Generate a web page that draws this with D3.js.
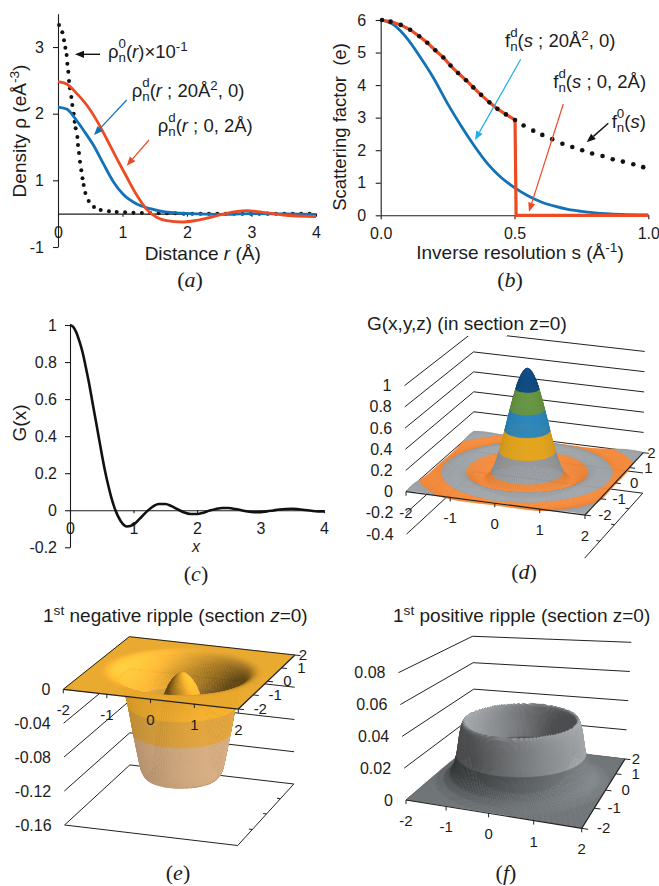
<!DOCTYPE html>
<html>
<head>
<meta charset="utf-8">
<title>Density, scattering factor and ripple surfaces</title>
<style>
  html, body { margin: 0; background: #fff; }
  svg { display: block; }
  text { font-family: "Liberation Sans", Arial, sans-serif; fill: #1c1c1c; }
  .cap { font-family: "Liberation Serif", "Times New Roman", serif; }
  .axis path, .axis line { stroke: #1c1c1c; stroke-width: 1.1; }
  .axis text { font-size: 16px; }
</style>
<script src="https://d3js.org/d3.v7.min.js"></script>
</head>
<body>
<script>
// panel (a), the y axis of the original is labelled 3,2,1,-1 with the baseline at 0.5 of its units
const aDotsR = [0.016,0.067,0.093,0.114,0.134,0.145,0.16,0.171,0.186,0.206,0.222,0.243,0.258,0.274,0.3,0.31,0.326,0.341,0.361,0.38,0.398,0.424,0.476,0.558,0.662,0.79,0.91,1.04,1.17,1.3,1.43,1.56,1.69,1.82,1.95,2.08,2.21,2.34,2.47,2.6,2.73,2.86,2.99,3.12,3.25,3.38,3.51,3.64,3.77,3.9];
const aDotsV = [3.33,3.22,3.1,2.99,2.88,2.75,2.63,2.49,2.38,2.25,2.13,2,1.88,1.78,1.65,1.53,1.41,1.28,1.15,1.03,0.93,0.81,0.69,0.6,0.555,0.535,0.525,0.52,0.515,0.51,0.51,0.505,0.505,0.505,0.5,0.5,0.5,0.5,0.5,0.5,0.5,0.5,0.5,0.5,0.5,0.5,0.5,0.5,0.5,0.5];
const aBlueR = [0,0.134,0.264,0.393,0.548,0.703,0.858,1.01,1.22,1.43,1.63,2.05,2.5,3,3.5,4];
const aBlueV = [2.1,2.07,1.93,1.755,1.53,1.25,0.98,0.79,0.645,0.575,0.53,0.5,0.49,0.5,0.495,0.49];
const aRedR = [0,0.134,0.29,0.445,0.6,0.755,0.91,1.065,1.22,1.375,1.53,1.685,1.92,2.15,2.41,2.61,2.92,3.23,3.49,4];
const aRedV = [2.48,2.445,2.305,2.13,1.9,1.62,1.33,1.05,0.78,0.565,0.445,0.395,0.375,0.4,0.455,0.505,0.545,0.515,0.48,0.455];
const aYTicks = [0,1,2,3];
const aYLabels = ["-1","1","2","3"];
const aXTicks = [0,1,2,3,4];

// panel (b)
const bDotS = [0.005,0.037,0.075,0.11,0.144,0.174,0.204,0.234,0.261,0.289,0.319,0.346,0.375,0.406,0.436,0.468,0.502,0.534,0.57,0.604,0.641,0.679,0.716,0.753,0.79,0.829,0.867,0.905,0.944,0.981];
const bDotF = [6,5.95,5.85,5.7,5.5,5.3,5.07,4.85,4.6,4.37,4.15,3.93,3.7,3.47,3.27,3.1,2.93,2.76,2.6,2.47,2.34,2.2,2.1,2,1.9,1.82,1.72,1.65,1.57,1.48];
const bRedS = [0,0.037,0.075,0.11,0.144,0.174,0.204,0.234,0.261,0.289,0.319,0.346,0.375,0.406,0.436,0.468,0.502,0.506,1];
const bRedF = [6,5.95,5.85,5.7,5.5,5.3,5.07,4.85,4.6,4.37,4.15,3.93,3.7,3.47,3.27,3.1,2.93,0,0];
const bBlueS = [0,0.05,0.1,0.15,0.2,0.25,0.3,0.35,0.4,0.45,0.5,0.55,0.6,0.65,0.7,0.75,0.8,0.9,1];
const bBlueF = [6,5.84,5.42,4.83,4.18,3.43,2.75,2.13,1.58,1.16,0.85,0.6,0.41,0.28,0.18,0.12,0.077,0.03,0.01];
const bYTicks = [0,1,2,3,4,5,6];
const bXTicks = [0,0.5,1];

// panel (c), and the radial profile of panel (d)
const cR = [0,0.05,0.1,0.15,0.2,0.25,0.3,0.35,0.4,0.45,0.5,0.55,0.6,0.65,0.7,0.8,0.9,1,1.1,1.2,1.3,1.4,1.5,1.6,1.7,1.8,1.9,2,2.1,2.2,2.3,2.4,2.5,2.6,2.7,2.8,2.9,3,3.1,3.2,3.3,3.4,3.5,3.6,3.7,3.8,3.9,4];
const cG = [1,0.99,0.96,0.91,0.85,0.77,0.686,0.59,0.495,0.4,0.304,0.215,0.138,0.07,0.0145,-0.059,-0.088,-0.078,-0.045,-0.01,0.019,0.034,0.034,0.022,0.004,-0.012,-0.02,-0.02,-0.013,-0.002,0.007,0.012,0.012,0.007,0,-0.007,-0.01,-0.01,-0.006,-0.001,0.004,0.007,0.008,0.005,0.001,-0.003,-0.006,-0.006];
const cYTicks = [-0.2,0,0.2,0.4,0.6,0.8,1];
const cXTicks = [0,1,2,3,4];

// panel (e) and (f), radial height profiles
const eR = [0,0.1,0.2,0.3,0.4,0.5,0.6,0.65,0.7,0.8,0.85,0.92,1.08,1.19,1.23,1.3,1.4,1.5,1.6,1.7,2.9];
const eZ = [-0.001,-0.0027,-0.0078,-0.016,-0.028,-0.058,-0.1,-0.12,-0.125,-0.126,-0.124,-0.116,-0.073,-0.04,-0.03,-0.02,-0.01,-0.004,-0.001,0,0];
const fR = [0,0.8,0.9,1,1.1,1.15,1.2,1.25,1.3,1.35,1.4,1.47,1.55,1.65,1.8,2,2.9];
const fZ = [0,0,0.001,0.004,0.01,0.017,0.03,0.037,0.039,0.036,0.03,0.018,0.01,0.005,0.002,0.0005,0];

const planTicks = [-2,-1,0,1,2];
const dZLevels = [-0.4,-0.2,0,0.2,0.4,0.6,0.8,1];
const dZLabels = ["-0.4","-0.2","0","0.2","0.4","0.6","0.8","1"];
const eZLevels = [-0.16,-0.12,-0.08,-0.04,0];
const eZLabels = ["-0.16","-0.12","-0.08","-0.04","0"];
const fZLevels = [0,0.02,0.04,0.06,0.08];
const fZLabels = ["0","0.02","0.04","0.06","0.08"];

const red = "#ee4a23", blue = "#1272b7", cyan = "#1fb0e4", ink = "#111";

const svg = d3.select("body").append("svg").attr("width", 659).attr("height", 886);

// text with raised, lowered, italic and stacked pieces, all in one text element
function rich(x, y, size, parts, opts = {}) {
  const t = svg.append("text").attr("x", x).attr("y", y).attr("font-size", size)
    .attr("text-anchor", opts.anchor || "start");
  if (opts.rotate) t.attr("transform", `rotate(-90 ${x} ${y})`);
  if (opts.cls) t.attr("class", opts.cls);
  const small = size * 0.72;
  let cur = 0;
  const span = (s, target, sz, extra) => {
    const ts = t.append("tspan").text(s).attr("dy", target - cur).attr("font-size", sz);
    if (extra && extra.italic) ts.attr("font-style", "italic");
    if (extra && extra.dx) ts.attr("dx", extra.dx);
    cur = target;
  };
  parts.forEach(p => {
    if (typeof p === "string") span(p, 0, size);
    else if (p.i) span(p.i, 0, size, {italic: true});
    else if (p.sup) span(p.sup, -size * 0.36, small);
    else if (p.stack) {
      span(p.stack[0], -size * 0.55, small);
      span(p.stack[1], size * 0.2, small, {dx: -0.556 * small});
    }
  });
  return t;
}

function arrow(x1, y1, x2, y2, color, width) {
  const a = Math.atan2(y2 - y1, x2 - x1), len = 9, half = 3.6;
  const bx = x2 - len * Math.cos(a), by = y2 - len * Math.sin(a);
  svg.append("line").attr("x1", x1).attr("y1", y1).attr("x2", bx).attr("y2", by)
    .attr("stroke", color).attr("stroke-width", width);
  svg.append("path").attr("fill", color)
    .attr("d", d3.line()([[x2, y2], [bx - half * Math.sin(a), by + half * Math.cos(a)], [bx + half * Math.sin(a), by - half * Math.cos(a)]]) + "Z");
}

function drawLine(xs, ys, x, y, color, width) {
  svg.append("path").datum(xs.map((d, i) => [d, ys[i]]))
    .attr("fill", "none").attr("stroke", color).attr("stroke-width", width)
    .attr("stroke-linejoin", "round")
    .attr("d", d3.line().x(d => x(d[0])).y(d => y(d[1])).curve(d3.curveMonotoneX));
}

function drawDots(xs, ys, x, y, r) {
  svg.append("g").selectAll("circle").data(xs.map((d, i) => [d, ys[i]])).join("circle")
    .attr("cx", d => x(d[0])).attr("cy", d => y(d[1])).attr("r", r).attr("fill", ink);
}

function axes(x, y, xAt, xTicks, xFmt, yTicks, yFmt, xPad, yPad, xTick) {
  svg.append("g").attr("class", "axis").attr("transform", `translate(0,${y(xAt)})`)
    .call(d3.axisBottom(x).tickValues(xTicks).tickFormat(xFmt).tickSize(xTick).tickSizeOuter(0).tickPadding(xPad));
  svg.append("g").attr("class", "axis").attr("transform", `translate(${x(0)},0)`)
    .call(d3.axisLeft(y).tickValues(yTicks).tickFormat(yFmt).tickSize(5).tickSizeOuter(0).tickPadding(yPad));
}

function caption(letter, x, y) {
  rich(x, y, 22, ["(", {i: letter}, ")"], {anchor: "middle", cls: "cap"});
}

// ---- panel a
const ax = d3.scaleLinear().domain([0, 4]).range([58, 316]);
const ay = d3.scaleLinear().domain([0, 3.5]).range([247, 13.7]);
drawDots(aDotsR, aDotsV, ax, ay, 2);
axes(ax, ay, 0.5, aXTicks, d3.format("d"), aYTicks, (d, i) => aYLabels[i], 9.5, 9, 3);
drawLine(aBlueR, aBlueV, ax, ay, blue, 2.8);
drawLine(aRedR, aRedV, ax, ay, red, 2.8);
arrow(100, 54.3, 75, 54.3, ink, 1.4);
arrow(126.7, 100, 94, 135, blue, 1.2);
arrow(149, 140, 126.7, 165.7, red, 1.2);
rich(108, 58, 18.5, ["ρ", {stack: ["0", "n"]}, "(", {i: "r"}, ")×10", {sup: "-1"}]);
rich(131.7, 97, 18.5, ["ρ", {stack: ["d", "n"]}, "(", {i: "r"}, " ; 20Å", {sup: "2"}, ", 0)"]);
rich(157.7, 132, 18.5, ["ρ", {stack: ["d", "n"]}, "(", {i: "r"}, " ; 0, 2Å)"]);
rich(26, 131, 19, ["Density ρ (eÅ", {sup: "-3"}, ")"], {rotate: true, anchor: "middle"});
rich(202.7, 260, 19, ["Distance ", {i: "r"}, " (Å)"], {anchor: "middle"});
caption("a", 190, 287);

// ---- panel b
const bx = d3.scaleLinear().domain([0, 1]).range([380.7, 648.3]);
const by = d3.scaleLinear().domain([0, 6]).range([215.3, 20]);
axes(bx, by, 0, bXTicks, d3.format(".1f"), bYTicks, d3.format("d"), 8.5, 9.5, 4);
drawLine(bBlueS, bBlueF, bx, by, blue, 2.8);
svg.append("path").datum(bRedS.map((d, i) => [d, bRedF[i]]))
  .attr("fill", "none").attr("stroke", red).attr("stroke-width", 3.2)
  .attr("d", d3.line().x(d => bx(d[0])).y(d => by(d[1])));
drawDots(bDotS, bDotF, bx, by, 2.3);
arrow(520.7, 59.3, 475, 140, cyan, 1.2);
arrow(563.3, 104, 529, 211.7, red, 1.2);
arrow(608.3, 123.3, 586.7, 142.3, ink, 1.4);
rich(505, 47, 18.5, ["f", {stack: ["d", "n"]}, "(", {i: "s"}, " ; 20Å", {sup: "2"}, ", 0)"]);
rich(553.3, 88, 18.5, ["f", {stack: ["d", "n"]}, "(", {i: "s"}, " ; 0, 2Å)"]);
rich(611.7, 128, 18.5, ["f", {stack: ["0", "n"]}, "(", {i: "s"}, ")"]);
rich(346, 127, 18.5, ["Scattering factor\u00a0\u00a0(e)"], {rotate: true, anchor: "middle"});
rich(520, 259, 19, ["Inverse resolution s (Å", {sup: "-1"}, ")"], {anchor: "middle"});
caption("b", 510, 287);

// ---- panel c
const cx = d3.scaleLinear().domain([0, 4]).range([70, 324]);
const cy = d3.scaleLinear().domain([-0.2, 1]).range([547.3, 325]);
axes(cx, cy, 0, cXTicks, d3.format("d"), cYTicks, d => d === 0 ? "0" : String(d), 9.5, 8, 3);
drawLine(cR, cG, cx, cy, ink, 2.6);
rich(26, 423, 19, ["G(x)"], {rotate: true, anchor: "middle"});
rich(196, 552, 16, [{i: "x"}], {anchor: "middle"});
caption("c", 196, 581);

// ---- 3D panels: a plate with four fitted corners and a height scale
function makeView(c, zScale, spread) {
  const [x0, y0] = c.fl, [x1, y1] = c.fr, [x2, y2] = c.br, [x3, y3] = c.bl;
  const dx1 = x1 - x2, dx2 = x3 - x2, sx = x0 - x1 + x2 - x3;
  const dy1 = y1 - y2, dy2 = y3 - y2, sy = y0 - y1 + y2 - y3;
  const den = dx1 * dy2 - dx2 * dy1;
  const g = (sx * dy2 - dx2 * sy) / den, h = (dx1 * sy - sx * dy1) / den;
  const a = x1 - x0 + g * x1, b = x3 - x0 + h * x3, d = y1 - y0 + g * y1, e = y3 - y0 + h * y3;
  const base = (u, v) => {
    const w = g * u + h * v + 1;
    return [(a * u + b * v + x0) / w, (d * u + e * v + y0) / w, 1 / w];
  };
  const mid = base(0.5, 0.5)[0];
  return (x, y, z = 0) => {
    const [px, py, k] = base((x + 2) / 4, (y + 2) / 4);
    const up = zScale(z) * k;
    return [px + (px - mid) * up * spread, py - up];
  };
}

function clipZ(poly, level, keepAbove) {
  const out = [];
  poly.forEach((p, i) => {
    const q = poly[(i + 1) % poly.length];
    const inP = keepAbove ? p[2] >= level : p[2] <= level;
    const inQ = keepAbove ? q[2] >= level : q[2] <= level;
    if (inP) out.push(p);
    if (inP !== inQ) {
      const t = (level - p[2]) / (q[2] - p[2]);
      out.push([p[0] + t * (q[0] - p[0]), p[1] + t * (q[1] - p[1]), level]);
    }
  });
  return out;
}

function surface(view, rs, zs, bands, opt) {
  const N = 96;
  const prof = d3.scaleLinear().domain(rs).range(zs).clamp(true);
  const grid = d3.scaleLinear().domain([0, N]).range([-2, 2]);
  const stretch = opt.stretch || 1;
  const height = (x, y) => prof(Math.hypot(x, y) / stretch);
  const L = opt.light, hd = opt.blur;
  const cells = [];
  for (let i = 0; i < N; i++) {
    for (let j = 0; j < N; j++) {
      const x0 = grid(i), x1 = grid(i + 1), y0 = grid(j), y1 = grid(j + 1);
      const xc = (x0 + x1) / 2, yc = (y0 + y1) / 2;
      cells.push({
        poly: [[x0, y0, height(x0, y0)], [x1, y0, height(x1, y0)], [x1, y1, height(x1, y1)], [x0, y1, height(x0, y1)]],
        xc, yc, depth: view(xc, yc)[1]
      });
    }
  }
  cells.sort((p, q) => p.depth - q.depth);
  const pieces = [];
  cells.forEach(c => {
    const sc = c.poly.map(p => view(p[0], p[1], p[2]));
    // faces turned away from the viewer show their underside, d3.polygonArea flips sign with y down
    const under = d3.polygonArea(sc) < 0;
    let nx = -(height(c.xc + hd, c.yc) - height(c.xc - hd, c.yc)) / (2 * hd) * opt.steep;
    let ny = -(height(c.xc, c.yc + hd) - height(c.xc, c.yc - hd)) / (2 * hd) * opt.steep;
    let nz = 1;
    const len = Math.hypot(nx, ny, nz);
    nx /= len; ny /= len; nz /= len;
    const dot = nx * L[0] + ny * L[1] + nz * L[2];
    const m = under
      ? opt.underBase - opt.underGain * dot
      : Math.max(opt.floor || 0, 1 + opt.gain * (dot - L[2]));
    bands.forEach(b => {
      let poly = clipZ(c.poly, b.lo, true);
      if (poly.length) poly = clipZ(poly, b.hi, false);
      if (poly.length < 3) return;
      const col = d3.rgb(b.color);
      const fill = d3.rgb(col.r * m, col.g * m, col.b * m).formatHex();
      pieces.push({d: d3.line()(poly.map(p => view(p[0], p[1], p[2]))) + "Z", fill});
    });
  });
  svg.append("g").selectAll("path").data(pieces).join("path")
    .attr("d", d => d.d).attr("fill", d => d.fill)
    .attr("stroke", d => d.fill).attr("stroke-width", 0.5).attr("stroke-linejoin", "round");
}

function seg(view, pts, width = 1.1) {
  svg.append("path").datum(pts).attr("fill", "none").attr("stroke", "#222").attr("stroke-width", width)
    .attr("d", d3.line().x(d => view(d[0], d[1], d[2])[0]).y(d => view(d[0], d[1], d[2])[1]));
}

function walls(view, levels) {
  levels.forEach(z => seg(view, [[-2, -2, z], [-2, 2, z], [2, 2, z]], 1));
}

function plateAxes(view, yDx, allEdges) {
  seg(view, [[-2, -2, 0], [2, -2, 0], [2, 2, 0]], 1.2);
  if (allEdges) seg(view, [[-2, -2, 0], [-2, 2, 0], [2, 2, 0]], 1);
  planTicks.forEach((t, i) => {
    const p = view(t, -2, 0), q = view(2, t, 0), q2 = view(2.13, t, 0);
    svg.append("line").attr("x1", p[0]).attr("y1", p[1]).attr("x2", p[0]).attr("y2", p[1] + 4).attr("stroke", "#222");
    svg.append("line").attr("x1", q[0]).attr("y1", q[1]).attr("x2", q2[0]).attr("y2", q2[1]).attr("stroke", "#222");
    svg.append("text").attr("x", p[0]).attr("y", p[1] + 26).attr("font-size", 15).attr("text-anchor", "middle").text(t);
    svg.append("text").attr("x", q[0] + yDx[i]).attr("y", q[1] + 5).attr("font-size", 15).attr("text-anchor", "middle").text(t);
  });
}

function zLabels(view, levels, labels) {
  levels.forEach((z, i) => {
    const p = view(-2, -2, z);
    svg.append("text").attr("x", p[0] - 13).attr("y", p[1] + 5.5).attr("font-size", 16)
      .attr("text-anchor", "end").text(labels[i]);
  });
}

// ---- panel d
const dView = makeView({fl: [406, 491.7], fr: [585, 515], br: [643.3, 452.7], bl: [474, 431.7]},
  d3.scaleLinear().domain([0, 1]).range([0, 106]), 1.2e-4);
walls(dView, dZLevels);
seg(dView, [[2, -2, -0.4], [2, 2, -0.4]], 1);
[-1, 0, 1].forEach(t => seg(dView, [[1.92, t, -0.4], [2, t, -0.4]], 1));
svg.append("rect").attr("x", 466).attr("y", 325).attr("width", 41).attr("height", 11).attr("fill", "#fff");
surface(dView, cR, cG, [
  {lo: -1, hi: 0, color: "#f2883a"},
  {lo: 0, hi: 0.2, color: "#9da2a6"},
  {lo: 0.2, hi: 0.4, color: "#f3af1f"},
  {lo: 0.4, hi: 0.6, color: "#2f8fc8"},
  {lo: 0.6, hi: 0.8, color: "#6f9f48"},
  {lo: 0.8, hi: 2, color: "#124f88"}
], {light: [0.2, -0.4, 0.9], gain: 0.22, steep: 2.4, blur: 0.09, stretch: 1.07, underBase: 0.9, underGain: 0.1});
plateAxes(dView, [20, 19, 19, 19, 8], false);
zLabels(dView, dZLevels, dZLabels);
rich(367, 330, 19, ["G(x,y,z) (in section z=0)"]);
caption("d", 524, 579);

// ---- panel e
const eView = makeView({fl: [63.3, 689.3], fr: [238.3, 709], br: [295, 655], bl: [129.3, 636.7]},
  d3.scaleLinear().domain([-0.16, 0]).range([-135.7, 0]), 0.8e-4);
walls(eView, eZLevels.slice(0, 4));
seg(eView, [[-2, -2, -0.16], [2, -2, -0.16], [2, 2, -0.16]], 1);
[-1, 0, 1].forEach(t => seg(eView, [[1.92, t, -0.16], [2, t, -0.16]], 1));
surface(eView, eR, eZ, [
  {lo: -0.04, hi: 1, color: "#e9a82e"},
  {lo: -0.073, hi: -0.04, color: "#d49c3c"},
  {lo: -1, hi: -0.073, color: "#c9a37b"}
], {light: [0.72, -0.1, 0.68], gain: 0.7, steep: 19, blur: 0.13, floor: 0.42, underBase: 1.0, underGain: 0.15});
plateAxes(eView, [22, 22, 20, 20, 8], true);
zLabels(eView, eZLevels, eZLabels);
rich(43, 622, 19, ["1", {sup: "st"}, " negative ripple (section ", {i: "z"}, "=0)"]);
caption("e", 178, 880);

// ---- panel f
const fView = makeView({fl: [406, 800], fr: [581.7, 828.3], br: [625, 759], bl: [475, 742]},
  d3.scaleLinear().domain([0, 0.08]).range([0, 127.3]), 5.2e-4);
walls(fView, fZLevels);
surface(fView, fR, fZ, [
  {lo: -1, hi: 0.017, color: "#6e7376"},
  {lo: 0.017, hi: 1, color: "#96999c"}
], {light: [0.7, 0.15, 0.65], gain: 0.5, steep: 36, blur: 0.05, floor: 0.5, underBase: 0.9, underGain: 0.1});
plateAxes(fView, [22, 20, 20, 20, 11], false);
zLabels(fView, fZLevels, fZLabels);
rich(393, 622, 19, ["1", {sup: "st"}, " positive ripple (section z=0)"]);
caption("f", 506, 880);
</script>
</body>
</html>
